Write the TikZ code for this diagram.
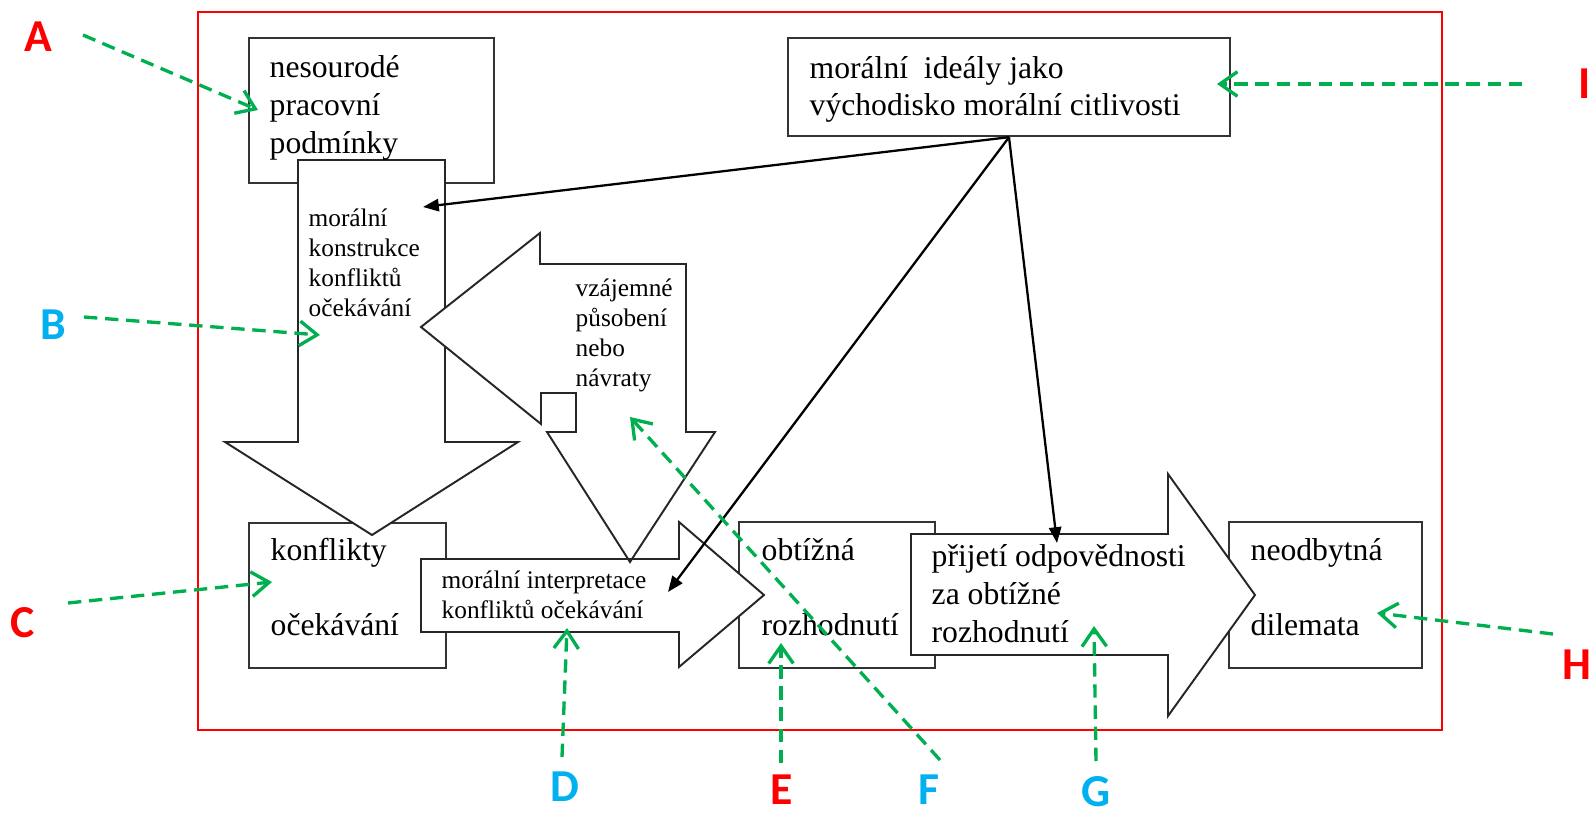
\documentclass[tikz,border=0pt]{standalone}
\usepackage{fontspec}
\setmainfont{Liberation Serif}
\newfontfamily\lblfont{Carlito}
\usetikzlibrary{arrows.meta}
\definecolor{ptrgreen}{RGB}{0,176,80}
\definecolor{lblblue}{RGB}{0,176,240}

\begin{document}
\begin{tikzpicture}[x=0.01cm,y=-0.01cm,
    box/.style={draw=black!80,line width=0.65pt,fill=white},
    blk/.style={draw=black!85,line width=0.55pt,fill=white},
    hed/.style={draw=black,line width=0.65pt,-{Triangle[length=4.5pt,width=3.5pt]}},
    ptr/.style={draw=ptrgreen,line width=0.95pt,dash pattern=on 3.8pt off 2.2pt,
      -{Straight Barb[length=5pt,width=7pt,line width=0.95pt]}},
    big/.style={font=\fontsize{9}{10.8}\selectfont,anchor=base west,inner sep=0pt,align=left},
    small/.style={font=\fontsize{7.2}{8.5}\selectfont,anchor=base west,inner sep=0pt,align=left},
    lbl/.style={font=\lblfont\bfseries\fontsize{13}{15}\selectfont}]
        \useasboundingbox (0,0) rectangle (1593,815);
        \draw[red,line width=0.6pt] (198,12) rectangle (1442,730);

        % boxes
        \node[box,minimum width=2.45cm,minimum height=1.45cm] (podm) at (371.5,110.5) {};
        \node[box,minimum width=4.42cm,minimum height=0.98cm] (ideal) at (1009,87) {};
        \node[box,minimum width=1.97cm,minimum height=1.45cm] (konf) at (347.5,595.5) {};
        \node[box,minimum width=1.96cm,minimum height=1.46cm] (obt) at (837,595) {};
        \node[box,minimum width=1.93cm,minimum height=1.46cm] (neod) at (1325.5,595) {};

        % block arrows
        \draw[blk] (298,160) -- (445,160) -- (445,442) -- (518,442) -- (372,535)
            -- (225,442) -- (298,442) -- cycle;
        \path[fill=white] (421,327) -- (540,233) -- (540,264) -- (686,264) -- (686,432)
            -- (715,432) -- (630,562) -- (547,432) -- (576,432) -- (576,393) -- (541,393)
            -- (541,424) -- cycle;
        \draw[blk] (421,559) -- (679,559) -- (679,522) -- (764,595) -- (679,667)
            -- (679,632) -- (421,632) -- cycle;
        \draw[blk,fill=none] (421,327) -- (540,233) -- (540,264) -- (686,264) -- (686,432)
            -- (715,432) -- (630,562) -- (547,432) -- (576,432) -- (576,393) -- (541,393)
            -- (541,424) -- cycle;
        \draw[blk] (911,534) -- (1168,534) -- (1168,474) -- (1255,595) -- (1168,716)
            -- (1168,655) -- (911,655) -- cycle;

        % texts (placed at the baseline of their last line)
        \node[big] (podmtxt) at (269,153) {nesourodé\\pracovní\\podmínky};
        \node[big] (idealtxt) at (809,116) {morální\ \ ideály jako\\východisko morální citlivosti};
        \node[small] (kontxt) at (308,316) {morální\\konstrukce\\konfliktů\\očekávání};
        \node[small] (vzajtxt) at (575,386) {vzájemné\\působení\\nebo\\návraty};
        \node[small] (inttxt) at (441,618) {morální interpretace\\konfliktů očekávání};
        \node[big] (konftxt) at (270,635) {konflikty\\[10.5pt]očekávání};
        \node[big] (obttxt) at (761,635) {obtížná\\[10.5pt]rozhodnutí};
        \node[big] (prijtxt) at (931,642) {přijetí odpovědnosti\\za obtížné\\rozhodnutí};
        \node[big] (neodtxt) at (1250,635) {neodbytná\\[10.5pt]dilemata};

        % black connectors
        \coordinate (konin) at (423,207);
        \coordinate (intin) at (668,592);
        \coordinate (prijin) at (1057,543);
        \draw[hed] (ideal.south) -- (konin);
        \draw[hed] (ideal.south) -- (intin);
        \draw[hed] (ideal.south) -- (prijin);

        % letters
        \node[lbl,text=red] (la) at (38,37) {A};
        \node[lbl,text=lblblue] (lb) at (53,325) {B};
        \node[lbl,text=red] (lc) at (23,623) {C};
        \node[lbl,text=lblblue] (ld) at (565,787) {D};
        \node[lbl,text=red] (le) at (782,790) {E};
        \node[lbl,text=lblblue] (lf) at (929,790) {F};
        \node[lbl,text=lblblue] (lg) at (1096,792) {G};
        \node[lbl,text=red] (lh) at (1577,665) {H};
        \node[lbl,text=red] (li) at (1585,84) {I};

        % green pointers
        \coordinate (a0) at (83,35);    \coordinate (a1) at (258,110);
        \coordinate (b0) at (84,317);   \coordinate (b1) at (320,335);
        \coordinate (c0) at (68,603);   \coordinate (c1) at (272,582);
        \coordinate (d0) at (562,757);  \coordinate (d1) at (567,628);
        \coordinate (e0) at (781,763);  \coordinate (e1) at (781,643);
        \coordinate (f0) at (940,760);  \coordinate (f1) at (630,417);
        \coordinate (g0) at (1096,761); \coordinate (g1) at (1094,626);
        \coordinate (h0) at (1553,634); \coordinate (h1) at (1377,613);
        \coordinate (i0) at (1522,84);  \coordinate (i1) at (1217,84);
        \draw[ptr] (a0) -- (a1);
        \draw[ptr] (b0) -- (b1);
        \draw[ptr] (c0) -- (c1);
        \draw[ptr] (d0) -- (d1);
        \draw[ptr] (e0) -- (e1);
        \draw[ptr] (f0) -- (f1);
        \draw[ptr] (g0) -- (g1);
        \draw[ptr] (h0) -- (h1);
        \draw[ptr] (i0) -- (i1);
\end{tikzpicture}
\end{document}
